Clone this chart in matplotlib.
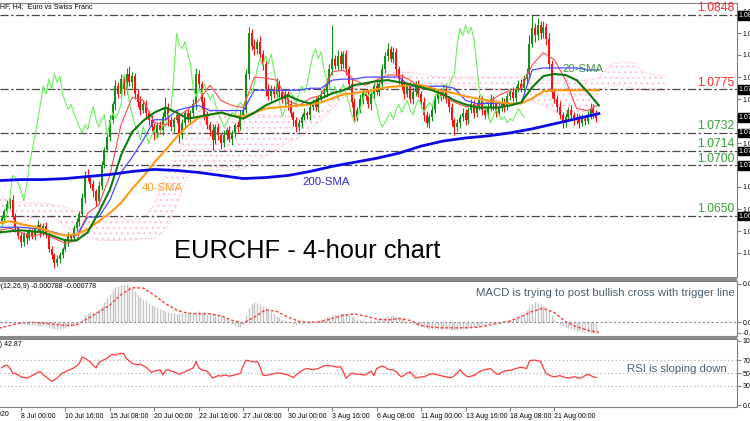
import numpy as np
import matplotlib
matplotlib.use('Agg')
import matplotlib.pyplot as plt
from matplotlib.patches import Rectangle
from matplotlib.transforms import blended_transform_factory

plt.rcParams['font.family'] = ['Liberation Sans', 'DejaVu Sans']
plt.rcParams['hatch.linewidth'] = 0.7

# ---------------- data (4-hour bars, bar 0 = 8 Jul 00:00) ----------------
first_bar = -7
first_open = 1.0645
closes = [
    1.0648, 1.0655, 1.0662, 1.0666, 1.0650, 1.0638, 1.0630,
    1.0624, 1.0632, 1.0628, 1.0635, 1.0630, 1.0638, 1.0641, 1.0634, 1.0640, 1.0632,
    1.0618, 1.0612, 1.0604, 1.0608, 1.0612, 1.0618, 1.0625, 1.0630, 1.0628, 1.0638,
    1.0644, 1.0652, 1.0668, 1.0690, 1.0688, 1.0682, 1.0675, 1.0665, 1.0680, 1.0700,
    1.0715, 1.0728, 1.0745, 1.0760, 1.0778, 1.0770, 1.0785, 1.0775, 1.0790, 1.0782,
    1.0788, 1.0770, 1.0762, 1.0755, 1.0760, 1.0752, 1.0745, 1.0738, 1.0732, 1.0740,
    1.0735, 1.0748, 1.0758, 1.0745, 1.0738, 1.0745, 1.0750, 1.0730, 1.0742, 1.0752,
    1.0746, 1.0752, 1.0760, 1.0790, 1.0780, 1.0762, 1.0750, 1.0740, 1.0735, 1.0725,
    1.0738, 1.0730, 1.0722, 1.0730, 1.0735, 1.0726, 1.0732, 1.0740, 1.0738, 1.0750,
    1.0755, 1.0790, 1.0830, 1.0818, 1.0815, 1.0822, 1.0810, 1.0800, 1.0775, 1.0768,
    1.0775, 1.0770, 1.0780, 1.0772, 1.0765, 1.0770, 1.0760, 1.0752, 1.0745, 1.0738,
    1.0742, 1.0748, 1.0752, 1.0750, 1.0758, 1.0762, 1.0758, 1.0766, 1.0770, 1.0772,
    1.0780, 1.0795, 1.0805, 1.0798, 1.0808, 1.0800, 1.0810, 1.0795, 1.0780, 1.0762,
    1.0748, 1.0755, 1.0765, 1.0772, 1.0768, 1.0760, 1.0770, 1.0778, 1.0772, 1.0780,
    1.0795, 1.0808, 1.0815, 1.0805, 1.0812, 1.0795, 1.0785, 1.0778, 1.0770, 1.0778,
    1.0765, 1.0772, 1.0780, 1.0770, 1.0762, 1.0750, 1.0742, 1.0748, 1.0755, 1.0765,
    1.0772, 1.0768, 1.0775, 1.0765, 1.0758, 1.0745, 1.0738, 1.0742, 1.0748, 1.0752,
    1.0745, 1.0755, 1.0760, 1.0752, 1.0758, 1.0764, 1.0755, 1.0750, 1.0758, 1.0765,
    1.0760, 1.0752, 1.0758, 1.0762, 1.0758, 1.0768, 1.0772, 1.0766, 1.0775, 1.0780,
    1.0776, 1.0785, 1.0790, 1.0820, 1.0835, 1.0828, 1.0838, 1.0830, 1.0836, 1.0825,
    1.0800, 1.0772, 1.0765, 1.0758, 1.0750, 1.0742, 1.0748, 1.0755, 1.0750, 1.0745,
    1.0748, 1.0742, 1.0746, 1.0744, 1.0750, 1.0756, 1.0752, 1.0747,
]
# wick lengths in pips
upper_wick = [
    3, 2, 4, 2, 5, 3, 2,
    3, 2, 4, 3, 2, 3, 5, 2, 3, 4,
    2, 3, 2, 4, 3, 2, 3, 4, 2, 3,
    4, 3, 5, 4, 6, 3, 4, 2, 5, 4,
    3, 4, 5, 3, 6, 4, 5, 3, 6, 8,
    4, 3, 5, 6, 3, 4, 2, 5, 4, 3,
    4, 5, 9, 3, 4, 3, 5, 2, 4, 3,
    4, 3, 5, 6, 4, 3, 5, 4, 3, 6,
    3, 4, 2, 5, 3, 4, 3, 2, 4, 5,
    3, 5, 6, 4, 7, 3, 5, 4, 3, 5,
    4, 3, 6, 4, 3, 5, 3, 4, 2, 3,
    4, 3, 5, 2, 4, 3, 5, 3, 4, 3,
    6, 5, 33, 4, 6, 5, 3, 4, 3, 5,
    4, 3, 5, 4, 3, 6, 4, 3, 5, 4,
    5, 4, 6, 3, 5, 4, 3, 5, 4, 3,
    4, 5, 3, 4, 3, 5, 4, 3, 4, 5,
    3, 4, 5, 3, 4, 3, 2, 4, 3, 5,
    4, 3, 5, 4, 3, 5, 4, 3, 4, 5,
    3, 4, 3, 5, 4, 3, 4, 5, 3, 4,
    5, 4, 6, 8, 13, 5, 7, 4, 6, 4,
    5, 4, 3, 4, 5, 3, 4, 3, 4, 3,
    4, 3, 5, 3, 4, 5, 4, 3,
]
lower_wick = [
    3, 4, 2, 5, 3, 4, 3,
    4, 3, 5, 2, 3, 4, 3, 5, 3, 4,
    3, 4, 5, 3, 4, 3, 2, 4, 3, 2,
    3, 4, 2, 5, 3, 4, 6, 5, 3, 4,
    3, 2, 4, 3, 5, 4, 3, 6, 5, 4,
    6, 5, 4, 5, 3, 6, 5, 4, 7, 5,
    4, 5, 3, 6, 4, 5, 3, 8, 4, 5,
    3, 4, 3, 5, 4, 6, 5, 4, 6, 10,
    4, 5, 6, 4, 5, 3, 6, 4, 5, 3,
    4, 3, 5, 4, 6, 5, 4, 6, 7, 4,
    5, 4, 3, 5, 4, 6, 5, 4, 6, 5,
    4, 5, 3, 4, 5, 3, 4, 5, 3, 4,
    5, 4, 6, 3, 4, 5, 4, 6, 5, 4,
    5, 4, 3, 5, 4, 3, 5, 4, 3, 4,
    3, 4, 5, 3, 4, 6, 5, 4, 5, 3,
    4, 5, 4, 3, 5, 6, 4, 5, 4, 3,
    4, 5, 3, 4, 5, 6, 8, 4, 5, 4,
    5, 4, 3, 5, 4, 3, 5, 4, 3, 4,
    5, 4, 3, 4, 5, 3, 4, 3, 4, 3,
    4, 3, 5, 4, 3, 6, 4, 5, 4, 6,
    5, 6, 4, 5, 4, 5, 4, 3, 4, 5,
    4, 5, 3, 4, 3, 4, 5, 4,
]

# moving averages / ichimoku lines, one value every 4 bars from bar -8
sma20 = [
    1.0634, 1.0635, 1.0636, 1.0635, 1.0634, 1.0630, 1.0626, 1.0626, 1.0634, 1.0654,
    1.0676, 1.0710, 1.0733, 1.0744, 1.0752, 1.0757, 1.0752, 1.0746, 1.0748, 1.0750,
    1.0752, 1.0749, 1.0746, 1.0752, 1.0759, 1.0764, 1.0769, 1.0764, 1.0761, 1.0766,
    1.0771, 1.0774, 1.0779, 1.0781, 1.0783, 1.0784, 1.0782, 1.0780, 1.0777, 1.0774,
    1.0770, 1.0764, 1.0760, 1.0757, 1.0757, 1.0757, 1.0759, 1.0762, 1.0777, 1.0788,
    1.0790, 1.0789, 1.0784, 1.0772, 1.0759,
]
sma40 = [
    1.0643, 1.0645, 1.0642, 1.0640, 1.0637, 1.0633, 1.0631, 1.0632, 1.0637, 1.0645,
    1.0653, 1.0663, 1.0677, 1.0689, 1.0703, 1.0715, 1.0728, 1.0739, 1.0747, 1.0750,
    1.0752, 1.0749, 1.0748, 1.0752, 1.0756, 1.0757, 1.0758, 1.0759, 1.0760, 1.0762,
    1.0766, 1.0770, 1.0771, 1.0773, 1.0775, 1.0777, 1.0778, 1.0779, 1.0779, 1.0776,
    1.0773, 1.0771, 1.0768, 1.0766, 1.0764, 1.0762, 1.0761, 1.0761, 1.0766, 1.0773,
    1.0774, 1.0774, 1.0774, 1.0774, 1.0774,
]
tenkan = [
    1.0636, 1.0638, 1.0634, 1.0630, 1.0633, 1.0628, 1.0623, 1.0626, 1.0653, 1.0661,
    1.0690, 1.0740, 1.0767, 1.0764, 1.0742, 1.0740, 1.0747, 1.0755, 1.0764, 1.0779,
    1.0764, 1.0759, 1.0757, 1.0787, 1.0786, 1.0784, 1.0764, 1.0759, 1.0766, 1.0769,
    1.0792, 1.0794, 1.0784, 1.0779, 1.0784, 1.0789, 1.0789, 1.0784, 1.0776, 1.0774,
    1.0769, 1.0762, 1.0758, 1.0759, 1.0762, 1.0769, 1.0774, 1.0776, 1.0799, 1.0811,
    1.0804, 1.0784, 1.0756, 1.0754, 1.0760,
]
kijun = [
    1.0639, 1.0639, 1.0639, 1.0638, 1.0637, 1.0634, 1.0631, 1.0631, 1.0649, 1.0649,
    1.0666, 1.0693, 1.0708, 1.0725, 1.0745, 1.0745, 1.0754, 1.0757, 1.0759, 1.0754,
    1.0754, 1.0754, 1.0754, 1.0774, 1.0774, 1.0774, 1.0774, 1.0774, 1.0776, 1.0776,
    1.0784, 1.0785, 1.0785, 1.0787, 1.0787, 1.0787, 1.0787, 1.0778, 1.0778, 1.0778,
    1.0778, 1.0776, 1.0764, 1.0761, 1.0761, 1.0761, 1.0761, 1.0761, 1.0794, 1.0796,
    1.0796, 1.0796, 1.0796, 1.0794, 1.0794,
]
# 200-SMA, one value every 8 bars from bar -8
sma200 = [
    1.0685, 1.0686, 1.0686, 1.0687, 1.0689, 1.0691, 1.0694, 1.0696, 1.0695, 1.0693,
    1.0690, 1.0687, 1.0688, 1.0690, 1.0694, 1.0699, 1.0703, 1.0707, 1.0712, 1.0719,
    1.0724, 1.0727, 1.0729, 1.0732, 1.0736, 1.0741, 1.0746, 1.0751,
]
# ichimoku cloud edges, every 4 bars from bar -8 (runs 26 bars ahead)
span_a = [
    1.0668, 1.0666, 1.0663, 1.0663, 1.0663, 1.0661, 1.0659, 1.0654, 1.0652, 1.0652,
    1.0649, 1.0648, 1.0646, 1.0648, 1.0661, 1.0690, 1.0715, 1.0730, 1.0754, 1.0756,
    1.0754, 1.0752, 1.0750, 1.0750, 1.0750, 1.0749, 1.0748, 1.0747, 1.0747, 1.0753,
    1.0764, 1.0772, 1.0776, 1.0781, 1.0786, 1.0789, 1.0792, 1.0792, 1.0790, 1.0788,
    1.0787, 1.0787, 1.0787, 1.0787, 1.0787, 1.0787, 1.0787, 1.0787, 1.0786, 1.0784,
    1.0784, 1.0784, 1.0784, 1.0784, 1.0786, 1.0799, 1.0802, 1.0801, 1.0792, 1.0789,
    1.0789,
]
span_b = [
    1.0641, 1.0641, 1.0644, 1.0648, 1.0649, 1.0648, 1.0640, 1.0634, 1.0630, 1.0626,
    1.0626, 1.0626, 1.0626, 1.0628, 1.0628, 1.0636, 1.0661, 1.0690, 1.0695, 1.0695,
    1.0695, 1.0695, 1.0697, 1.0703, 1.0709, 1.0715, 1.0723, 1.0727, 1.0735, 1.0745,
    1.0756, 1.0767, 1.0772, 1.0776, 1.0780, 1.0781, 1.0782, 1.0782, 1.0781, 1.0780,
    1.0779, 1.0778, 1.0778, 1.0777, 1.0776, 1.0774, 1.0770, 1.0766, 1.0764, 1.0759,
    1.0753, 1.0747, 1.0745, 1.0747, 1.0774, 1.0779, 1.0779, 1.0776, 1.0774, 1.0774,
    1.0774,
]

# MACD histogram per bar and signal every 4 bars, in units of 0.0001
macd_hist = [
    -0.5, -0.4, -0.3, -0.5, -0.7, -0.9, -1.1,
    -1.3, -1.6, -1.9, -2.1, -2.2, -2.4, -2.5, -2.6, -2.9, -3.2,
    -3.8, -4.4, -5.0, -5.3, -5.1, -4.7, -4.1, -3.5, -2.9, -2.2,
    -1.4, -0.3, 2.5, 5.5, 7.0, 7.8, 8.2, 9.0, 10.5, 12.5,
    15.5, 19.0, 22.0, 25.0, 27.0, 28.5, 29.5, 30.0, 30.0, 28.5,
    26.5, 24.0, 21.5, 19.5, 18.0, 16.5, 15.0, 13.5, 12.5, 11.5,
    10.5, 9.5, 8.5, 7.8, 7.3, 7.0, 6.8, 6.8, 7.0, 7.0,
    7.2, 7.5, 7.5, 8.0, 8.5, 8.2, 7.8, 7.5, 7.2, 7.0,
    6.5, 5.8, 5.0, 4.0, 3.0, 1.5, -1.0, -2.5, -3.5, -3.8,
    -1.0, 6.0, 11.0, 14.5, 15.5, 15.0, 14.0, 12.5, 11.0, 9.5,
    8.0, 6.5, 5.0, 3.8, 2.8, 1.8, 1.0, 0.0, -1.5, -2.0,
    -1.5, -1.0, -0.8, -0.5, -0.2, 0.0, 0.5, 1.5, 2.2, 3.0,
    4.0, 5.0, 6.0, 6.8, 7.2, 7.0, 7.0, 6.5, 6.0, 5.0,
    3.8, 2.8, 2.0, 1.5, 1.2, 1.2, 1.5, 1.8, 2.0, 2.2,
    3.0, 4.0, 4.8, 5.2, 5.5, 5.2, 4.5, 3.0, 1.5, 0.5,
    -0.5, -1.5, -2.2, -3.0, -3.5, -4.0, -4.5, -4.8, -5.0, -5.2,
    -5.0, -4.8, -5.0, -5.3, -5.5, -5.8, -6.0, -5.8, -5.5, -5.2,
    -5.0, -4.6, -4.2, -3.8, -3.2, -2.6, -2.0, -1.5, -1.0, -0.8,
    -0.6, -0.5, -0.3, -0.2, 0.2, 0.8, 1.5, 2.5, 3.5, 4.5,
    6.0, 7.5, 9.5, 12.0, 14.5, 15.5, 15.0, 14.0, 12.5, 11.0,
    8.5, 5.5, 2.0, 0.0, -1.5, -2.5, -3.5, -4.5, -5.5, -6.0,
    -6.5, -7.0, -7.3, -7.6, -7.8, -8.0, -7.9, -7.9,
]
macd_signal = [
    -4.6, -2.5, -0.4, 0.0, -0.5, -1.5, -2.4, -2.0, 2.8, 8.0,
    13.4, 21.5, 26.8, 26.5, 21.0, 14.5, 9.5, 7.0, 6.6, 6.6,
    5.0, 1.5, -0.5, 4.0, 9.7, 8.5, 4.0, 0.8, 0.0, 0.5,
    3.0, 5.5, 6.5, 4.8, 2.5, 1.8, 3.0, 1.5, -2.5, -3.8,
    -4.2, -4.3, -4.2, -3.8, -2.5, -0.5, 1.0, 4.5, 8.5, 10.8,
    7.5, 0.5, -3.5, -6.2, -7.8,
]
rsi = [
    58, 61, 62, 58, 50, 49, 47,
    44, 43, 42, 44, 46, 48, 51, 52, 47, 44,
    41, 37, 39, 42, 47, 50, 52, 54, 56, 58,
    61, 65, 75, 73, 70, 67, 62, 58, 66, 69,
    71, 73, 77, 79, 78, 80, 81, 80, 72, 69,
    65, 64, 63, 64, 61, 59, 55, 51, 53, 54,
    55, 47, 54, 55, 53, 52, 50, 48, 50, 52,
    54, 56, 58, 68, 58, 55, 54, 53, 47, 42,
    44, 46, 45, 47, 46, 45, 46, 47, 48, 50,
    62, 70, 69, 68, 67, 68, 60, 47, 46, 47,
    48, 49, 50, 50, 49, 48, 47, 45, 43, 47,
    50, 53, 56, 57, 56, 55, 56, 57, 59, 61,
    62, 61, 61, 60, 59, 60, 52, 42, 46, 50,
    49, 48, 48, 47, 47, 50, 53, 46, 57, 59,
    61, 59, 56, 55, 55, 52, 47, 44, 47, 50,
    52, 47, 42, 43, 44, 44, 46, 48, 49, 48,
    47, 46, 45, 44, 43, 43, 46, 50, 55, 50,
    46, 44, 45, 46, 49, 52, 54, 55, 56, 57,
    53, 49, 48, 51, 53, 54, 54, 55, 57, 58,
    59, 58, 57, 69, 70, 70, 69, 68, 58, 49,
    47, 45, 44, 45, 46, 44, 43, 42, 43, 44,
    43, 42, 43, 46, 48, 46, 44, 42.87,
]

levels = [1.0848, 1.0775, 1.0732, 1.0714, 1.0700, 1.0650]
level_text = ['1.0848', '1.0775', '1.0732', '1.0714', '1.0700', '1.0650']
level_colors = ['#ff2a2a', '#ff2a2a', '#38a038', '#38a038', '#38a038', '#38a038']
price_ticks = [1.0852, 1.0830, 1.0809, 1.0787, 1.0765, 1.0744,
               1.0722, 1.0700, 1.0679, 1.0657, 1.0635, 1.0614]
date_labels = ['8 Jul 00:00', '10 Jul 16:00', '15 Jul 08:00', '20 Jul 00:00',
               '22 Jul 16:00', '27 Jul 08:00', '30 Jul 00:00', '3 Aug 16:00',
               '6 Aug 08:00', '11 Aug 00:00', '13 Aug 16:00', '18 Aug 08:00',
               '21 Aug 00:00']

# ---------------- figure ----------------
W, H = 750, 421
fig = plt.figure(figsize=(W / 100, H / 100), dpi=100)


def box(top_px, bottom_px):
    # axes rectangle from pixel rows
    return [0, 1 - bottom_px / H, 737 / W, (bottom_px - top_px) / H]


ax = fig.add_axes(box(3, 277))
ax_macd = fig.add_axes(box(281, 336), sharex=ax)
ax_rsi = fig.add_axes(box(339, 407), sharex=ax)

spine_col = '#808080'
for a in (ax, ax_macd, ax_rsi):
    a.spines['left'].set_visible(False)
    for s in ('top', 'right', 'bottom'):
        a.spines[s].set_color(spine_col)
    a.yaxis.tick_right()
    a.tick_params(axis='y', labelsize=5, length=3, pad=1, color=spine_col)
    a.set_facecolor('white')
ax.set_xlim(-7.56, 257.7)

# gray separators between the panels
for top_px, bottom_px in ((277, 281), (336, 339)):
    fig.add_artist(Rectangle((0, 1 - bottom_px / H), 737 / W, (bottom_px - top_px) / H,
                             transform=fig.transFigure, color='#8a8a8a', lw=0))

bars = np.arange(first_bar, first_bar + len(closes))
x_ma = np.arange(-8, -8 + 4 * len(sma20), 4)
x_200 = np.arange(-8, -8 + 8 * len(sma200), 8)
x_cloud = np.arange(-8, -8 + 4 * len(span_a), 4)

# ichimoku cloud
ax.fill_between(x_cloud, span_a, span_b, facecolor='none', edgecolor='#ffb8d0',
                hatch='...', lw=0, zorder=1)
ax.plot(x_cloud, span_a, color='#ffb0cc', lw=0.8, ls=':', zorder=1)
ax.plot(x_cloud, span_b, color='#ffb0cc', lw=0.8, ls=':', zorder=1)

# support / resistance levels
for lv, txt, col in zip(levels, level_text, level_colors):
    ax.axhline(lv, color='#4a4a4a', lw=0.9, ls=(0, (6.5, 2, 2, 2)), zorder=2)
    ax.annotate(txt, (1, lv), xycoords=('axes fraction', 'data'), xytext=(-2, 0.5),
                textcoords='offset points', ha='right', va='bottom', fontsize=8.8,
                color=col, zorder=6)

# candles
o = np.array([first_open] + closes[:-1])
c = np.array(closes)
hi = np.maximum(o, c) + np.array(upper_wick) * 0.0001
lo = np.minimum(o, c) - np.array(lower_wick) * 0.0001
cols = np.where(c >= o, '#12901a', '#ff1010')
ax.vlines(bars, lo, hi, colors=cols, lw=0.8, zorder=3)
ax.bar(bars, np.maximum(np.abs(c - o), 0.00005), bottom=np.minimum(o, c), width=0.72,
       color=cols, lw=0, zorder=3)

# chikou span = closes drawn 26 bars back
ax.plot(bars - 26, closes, color='#6cee5c', lw=0.8, zorder=4)
ax.plot(x_ma, tenkan, color='#ff4a4a', lw=0.8, zorder=4)
ax.plot(x_ma, kijun, color='#4a4aff', lw=0.9, zorder=4)
ax.plot(x_ma, sma40, color='#ff9a10', lw=1.5, zorder=5)
ax.plot(x_ma, sma20, color='#0a7a0a', lw=1.5, zorder=5)
ax.plot(x_200, sma200, color='#0a0ae6', lw=2.0, zorder=5)

ax.text(195, 1.0795, '20-SMA', color='#3a9a3a', fontsize=8.2, va='center', zorder=7)
ax.text(43.6, 1.0678, '40-SMA', color='#ffa030', fontsize=8.2, va='center', zorder=7)
ax.text(101.2, 1.0684, '200-SMA', color='#2a2ad0', fontsize=8.2, va='center', zorder=7)
fig.text(174 / W, 1 - 258 / H, 'EURCHF - 4-hour chart', fontsize=18.4, color='black',
         va='baseline')

ax.set_ylim(1.0590, 1.0860)
ax.set_yticks(price_ticks)
ax.set_yticklabels([f'{p:.5f}' for p in price_ticks])
ax.tick_params(axis='x', bottom=False, labelbottom=False)

# black price boxes on the price scale
tr = blended_transform_factory(ax.transAxes, ax.transData)
for p in levels + [closes[-1]]:
    ax.text(1.002, p, f'{p:.5f}', transform=tr, fontsize=5, color='white', va='center',
            ha='left', bbox=dict(fc='black', ec='black', pad=0.6), zorder=8, clip_on=False)

# MACD panel
ax_macd.vlines(bars, 0, macd_hist, color='#c4c4c4', lw=1.0)
ax_macd.plot(x_ma, macd_signal, color='#ff3a3a', lw=1.0, ls=(0, (2, 1.5)))
ax_macd.axhline(0, color='#8a8a8a', lw=0.8, ls=(0, (2, 2)))
ax_macd.set_ylim(-10.6, 32)
ax_macd.set_yticks([29.7, 0, -7.9])
ax_macd.set_yticklabels(['0.002970', '0.000000', '-0.000788'])
ax_macd.tick_params(axis='x', bottom=False, labelbottom=False)
ax_macd.text(0.997, 0.78, 'MACD is trying to post bullish cross with trigger line',
             transform=ax_macd.transAxes, ha='right', va='center', fontsize=8.2,
             color='#46606f')

# RSI panel
for lv in (70, 50, 30):
    ax_rsi.axhline(lv, color='#b4b4b4', lw=0.9, ls=(0, (1, 2)))
ax_rsi.plot(bars, rsi, color='#ff3a3a', lw=0.9)
ax_rsi.set_ylim(-3.1, 103.1)
ax_rsi.set_yticks([100, 70, 50, 30, 0])
ax_rsi.set_yticklabels(['100.00', '70.00', '50.00', '30.00', '0.00'])
ax_rsi.text(727 / 737, 0.56, 'RSI is sloping down', transform=ax_rsi.transAxes,
            ha='right', va='center', fontsize=8.2, color='#46606f')

tick_bars = np.arange(0, 16 * len(date_labels), 16)
ax_rsi.set_xticks(tick_bars)
ax_rsi.set_xticklabels(date_labels, fontsize=5, ha='left')
ax_rsi.tick_params(axis='x', length=3, pad=1, color=spine_col)
ax_rsi.text(-4.3, -0.06, '6 Jul 2020', transform=blended_transform_factory(ax_rsi.transData, ax_rsi.transAxes),
            fontsize=5, ha='right', va='top')

# indicator captions, cut by the left edge like the screenshot
fig.text(-19.7 / W, 1 - 7 / H, 'EURCHF, H4:  Euro vs Swiss Franc', fontsize=5, va='center')
fig.text(-20.4 / W, 1 - 286 / H, 'MACD(12,26,9) -0.000788 -0.000778', fontsize=5, va='center')
fig.text(-21.6 / W, 1 - 344 / H, 'RSI(14) 42.87', fontsize=5, va='center')

fig.savefig('out.png', dpi=100)
